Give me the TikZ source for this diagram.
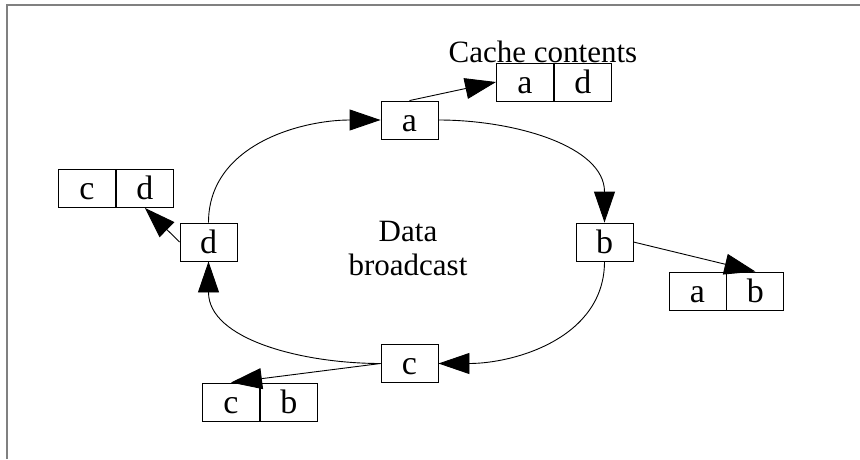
\documentclass[tikz,border=0pt]{standalone}
\usepackage{fontspec}
\setmainfont{Liberation Serif}
\usetikzlibrary{arrows.meta,positioning}

\begin{document}
\begin{tikzpicture}[x=1pt,y=1pt,line width=0.9pt,
  station/.style={rectangle,draw,minimum width=57pt,minimum height=38pt,
    inner sep=0pt,text height=30pt,text depth=7.5pt,font=\fontsize{34}{34}\selectfont},
  cell/.style={station},
  bcast/.style={-{Triangle[length=31pt,width=21pt]}},
  frame/.style={draw=gray,line width=2pt},
  font=\fontsize{31}{34}\selectfont]
    \useasboundingbox (0,0) rectangle (860,459);
    % Frame
    \draw[frame] (6.5,0) -- (6.5,454) -- (860,454);
    % Broadcast stations
    \node[station] (a) at (409.5,339) {a};
    \node[station] (b) at (604.5,217) {b};
    \node[station] (c) at (409.5,95.5) {c};
    \node[station] (d) at (208.5,217) {d};
    \node[align=center] (bc) at (408,210) {Data\\broadcast};
    % Cache contents
    \node[cell] (ad1) at (525,377) {a};
    \node[cell,right=0pt of ad1] (ad2) {d};
    \node[anchor=base] (title) at (543,396) {Cache contents};
    \node[cell] (ab1) at (697.5,168) {a};
    \node[cell,right=0pt of ab1] (ab2) {b};
    \node[cell] (cd1) at (87,270.5) {c};
    \node[cell,right=0pt of cd1] (cd2) {d};
    \node[cell] (cb1) at (231,57) {c};
    \node[cell,right=0pt of cb1] (cb2) {b};
    % Ring
    \draw[bcast] (a.east) to[out=0,in=90] (b.north);
    \draw[bcast] (b.south) to[out=-90,in=0] (c.east);
    \draw[bcast] (c.west) to[out=180,in=-90] (d.south);
    \draw[bcast] (d.north) to[out=90,in=180] (a.west);
    % Into the caches
    \draw[bcast] (a.north) -- (ad1.west);
    \draw[bcast] (b.east) -- (ab2.north);
    \draw[bcast] (c.west) -- (cb1.north);
    \draw[bcast] (d.west) -- (cd2.south);
\end{tikzpicture}
\end{document}
